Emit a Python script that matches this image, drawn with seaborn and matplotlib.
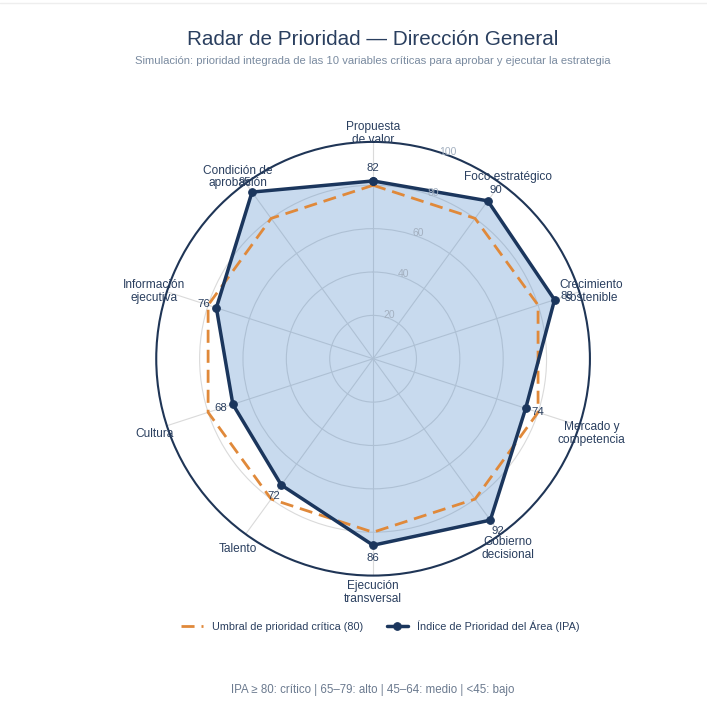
import numpy as np
import pandas as pd
import matplotlib.pyplot as plt
import matplotlib.transforms as mtransforms
import seaborn as sns

# Data
categorias = [
    "Propuesta\nde valor",
    "Foco estratégico",
    "Crecimiento\nsostenible",
    "Mercado y\ncompetencia",
    "Gobierno\ndecisional",
    "Ejecución\ntransversal",
    "Talento",
    "Cultura",
    "Información\nejecutiva",
    "Condición de\naprobación",
]
ipa = [82, 90, 88, 74, 92, 86, 72, 68, 76, 95]
umbral = [80] * len(categorias)
radial_ticks = [20, 40, 60, 80, 100]

titulo = "Radar de Prioridad — Dirección General"
subtitulo = "Simulación: prioridad integrada de las 10 variables críticas para aprobar y ejecutar la estrategia"
nota = "IPA ≥ 80: crítico | 65–79: alto | 45–64: medio | <45: bajo"

sns.set_theme(style="white")
plt.rcParams["font.family"] = ["Liberation Sans", "DejaVu Sans"]

navy = "#1b365d"
orange = "#e0893a"
text_col = "#2a3f5f"
grid_col = "#dadada"

n = len(categorias)
theta = np.linspace(0, 2 * np.pi, n, endpoint=False)

# closed polygon (last point at 2*pi so seaborn keeps it)
df = pd.DataFrame({
    "theta": np.append(theta, 2 * np.pi),
    "ipa": ipa + [ipa[0]],
    "umbral": umbral + [umbral[0]],
})

fig = plt.figure(figsize=(7.07, 7.24), dpi=100)
ax = fig.add_axes([0.2207, 0.205, 0.614, 0.599], projection="polar")
ax.set_theta_zero_location("N")
ax.set_theta_direction(-1)
ax.set_ylim(0, 100)

# grid
ax.set_yticks([20, 40, 60, 80])
ax.set_yticklabels([])
ax.set_xticks(theta)
ax.set_xticklabels([])
ax.grid(True, color=grid_col, linewidth=0.8)
ax.spines["polar"].set_color("#1f3556")
ax.spines["polar"].set_linewidth(1.5)
ax.set_axisbelow(True)

# threshold
sns.lineplot(data=df, x="theta", y="umbral", ax=ax, sort=False, estimator=None,
             color=orange, linewidth=2.0, linestyle=(0, (4.7, 2.5)),
             label="Umbral de prioridad crítica (80)", legend=False, zorder=3)

# IPA
ax.fill(df["theta"], df["ipa"], color="#4a86c8", alpha=0.3, zorder=2, linewidth=0)
sns.lineplot(data=df, x="theta", y="ipa", ax=ax, sort=False, estimator=None,
             color=navy, linewidth=2.5, marker="o", markersize=5.5,
             markeredgecolor=navy, label="Índice de Prioridad del Área (IPA)",
             legend=False, zorder=4)

ax.set_xlabel("")
ax.set_ylabel("")

# value labels
for t, v in zip(theta, ipa):
    ax.text(t, v + 6, str(v), ha="center", va="center", fontsize=8.2,
            color=text_col, zorder=5)

# category labels
lab_tr = mtransforms.offset_copy(ax.transData, fig=fig, x=0, y=-3, units="points")
for t, c in zip(theta, categorias):
    ax.text(t, 106, c, ha="center", va="center", fontsize=8.6, color=text_col,
            linespacing=1.1, clip_on=False, transform=lab_tr)

# radial tick labels
for r in radial_ticks:
    ax.text(np.deg2rad(20), r + 1.5, str(r), ha="center", va="center",
            fontsize=7.5, color="#a3b0c0", clip_on=False, zorder=5)

fig.text(0.527, 0.945, titulo, ha="center", va="center", fontsize=14.9, color=text_col)
fig.text(0.527, 0.916, subtitulo, ha="center", va="center", fontsize=8.15, color="#7a8ba0")

handles, labels = ax.get_legend_handles_labels()
fig.legend(handles, labels, loc="center", bbox_to_anchor=(0.538, 0.135), ncol=2,
           frameon=False, fontsize=7.8, labelcolor=text_col, handlelength=2.0,
           columnspacing=2.2)

fig.text(0.527, 0.047, nota, ha="center", va="center", fontsize=8.3, color="#6b7a8f")

# thin border at the top
fig.add_artist(plt.Line2D([0, 1], [0.996, 0.996], color="#eeeeee", linewidth=1.0))

fig.savefig("out.png", dpi=100)
